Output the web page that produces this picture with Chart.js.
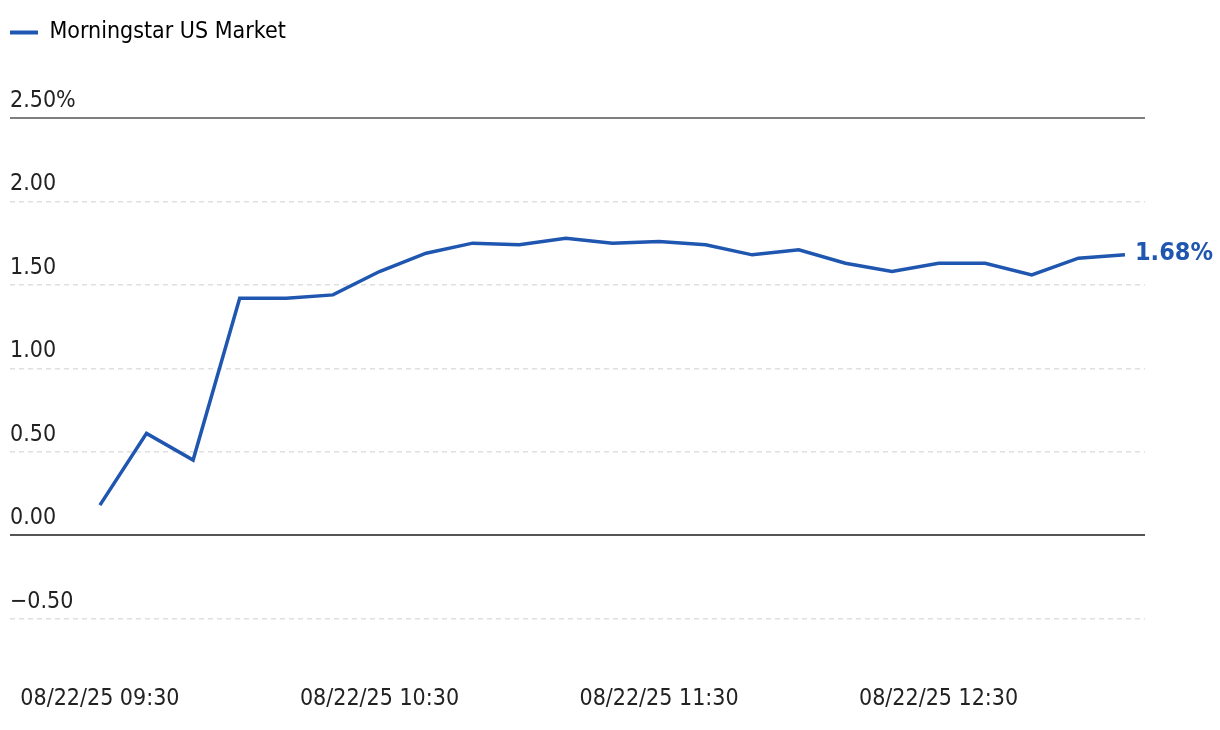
<!DOCTYPE html>
<html>
<head>
<meta charset="utf-8">
<script src="https://cdn.jsdelivr.net/npm/chart.js@4"></script>
<style>
  html, body { margin: 0; padding: 0; background: #fff; }
  #wrap { width: 1220px; height: 730px; }
</style>
</head>
<body>
<div id="wrap"><canvas id="marketChart"></canvas></div>
<script>
// Data
const seriesName = "Morningstar US Market";
const dateLabel = "08/22/25";
const times = ["09:30", "09:40", "09:50", "10:00", "10:10", "10:20", "10:30", "10:40",
               "10:50", "11:00", "11:10", "11:20", "11:30", "11:40", "11:50", "12:00",
               "12:10", "12:20", "12:30", "12:40", "12:50", "13:00", "13:10"];
const values = [0.18, 0.61, 0.45, 1.42, 1.42, 1.44, 1.58, 1.69,
                1.75, 1.74, 1.78, 1.75, 1.76, 1.74, 1.68, 1.71,
                1.63, 1.58, 1.63, 1.63, 1.56, 1.66, 1.68];
const xTickTimes = ["09:30", "10:30", "11:30", "12:30"];
const yTicks = [-0.5, 0, 0.5, 1, 1.5, 2, 2.5];
const yTickLabels = ["\u22120.50", "0.00", "0.50", "1.00", "1.50", "2.00", "2.50%"];

const BLUE = "#1f56b0";
const FONT = "'Liberation Sans Narrow', 'DejaVu Sans Condensed', 'Roboto', sans-serif";

function toMinutes(t) {
    const [h, m] = t.split(":").map(Number);
    return (h - 9) * 60 + (m - 30);
}

const points = times.map((t, i) => ({ x: toMinutes(t), y: values[i] }));
const xTickValues = xTickTimes.map(toMinutes);

// make room between legend and plot
const legendSpace = {
    id: 'legendSpace',
    beforeInit(chart) {
        if (!chart.legend) return;
        const origFit = chart.legend.fit;
        chart.legend.fit = function () {
            origFit.call(this);
            this.height = 107;
        };
    }
};

// solid top/zero lines + end value label
const extrasPlugin = {
    id: 'extras',
    beforeDatasetsDraw(chart) {
        const { ctx, chartArea, scales } = chart;
        ctx.save();
        ctx.strokeStyle = "#555";
        [[2.5, 1.5], [0, 2]].forEach(([v, w]) => {
            const y = Math.round(scales.y.getPixelForValue(v));
            ctx.lineWidth = w;
            ctx.beginPath();
            ctx.moveTo(chartArea.left, y);
            ctx.lineTo(chartArea.right, y);
            ctx.stroke();
        });
        ctx.restore();
    },
    afterDatasetsDraw(chart) {
        const { ctx, scales } = chart;
        const last = points[points.length - 1];
        const x = scales.x.getPixelForValue(last.x);
        const y = scales.y.getPixelForValue(last.y);
        ctx.save();
        ctx.font = "bold 25px " + FONT;
        ctx.fillStyle = BLUE;
        ctx.textAlign = "left";
        ctx.textBaseline = "middle";
        ctx.fillText(last.y.toFixed(2) + "%", x + 10, y - 1);
        ctx.restore();
    }
};

const ctx = document.getElementById('marketChart').getContext('2d');
new Chart(ctx, {
    type: 'line',
    data: {
        datasets: [{
            label: seriesName,
            data: points,
            borderColor: BLUE,
            backgroundColor: BLUE,
            borderWidth: 3.5,
            pointRadius: 0,
            tension: 0
        }]
    },
    options: {
        responsive: true,
        maintainAspectRatio: false,
        animation: false,
        layout: {
            padding: { left: 0, right: 75, top: 11, bottom: 0 }
        },
        scales: {
            x: {
                type: 'linear',
                min: -19.3,
                max: 224.3,
                afterBuildTicks: scale => {
                    scale.ticks = xTickValues.map(v => ({ value: v }));
                },
                afterFit: scale => {
                    scale.height = 78;
                    scale.paddingLeft = 0;
                    scale.paddingRight = 0;
                },
                grid: { display: false, drawTicks: false },
                border: { display: false },
                ticks: {
                    autoSkip: false,
                    maxRotation: 0,
                    padding: 33,
                    color: "#222",
                    font: { family: FONT, size: 23 },
                    callback: value => dateLabel + " " + xTickTimes[xTickValues.indexOf(value)]
                }
            },
            y: {
                min: -0.7,
                max: 2.5,
                afterBuildTicks: scale => {
                    scale.ticks = yTicks.map(v => ({ value: v }));
                },
                afterFit: scale => {
                    scale.width = 10;
                    scale.paddingTop = 0;
                    scale.paddingBottom = 0;
                },
                grid: {
                    drawTicks: false,
                    lineWidth: 1.5,
                    color: c => (c.tick && (c.tick.value === 0 || c.tick.value === 2.5)) ? "rgba(0,0,0,0)" : "#e0e0e0"
                },
                border: { display: false, dash: [5, 4] },
                ticks: {
                    mirror: true,
                    padding: 0,
                    labelOffset: -17,
                    color: "#222",
                    font: { family: FONT, size: 23 },
                    callback: value => yTickLabels[yTicks.indexOf(value)]
                }
            }
        },
        plugins: {
            legend: {
                display: true,
                position: 'top',
                align: 'start',
                labels: {
                    boxWidth: 28,
                    boxHeight: 4,
                    padding: 10,
                    color: "#222",
                    font: { family: FONT, size: 23 },
                    generateLabels: chart => chart.data.datasets.map((ds, i) => ({
                        text: ds.label,
                        fillStyle: BLUE,
                        strokeStyle: BLUE,
                        lineWidth: 0,
                        hidden: false,
                        datasetIndex: i
                    }))
                }
            },
            tooltip: { enabled: false }
        }
    },
    plugins: [legendSpace, extrasPlugin]
});
</script>
</body>
</html>
